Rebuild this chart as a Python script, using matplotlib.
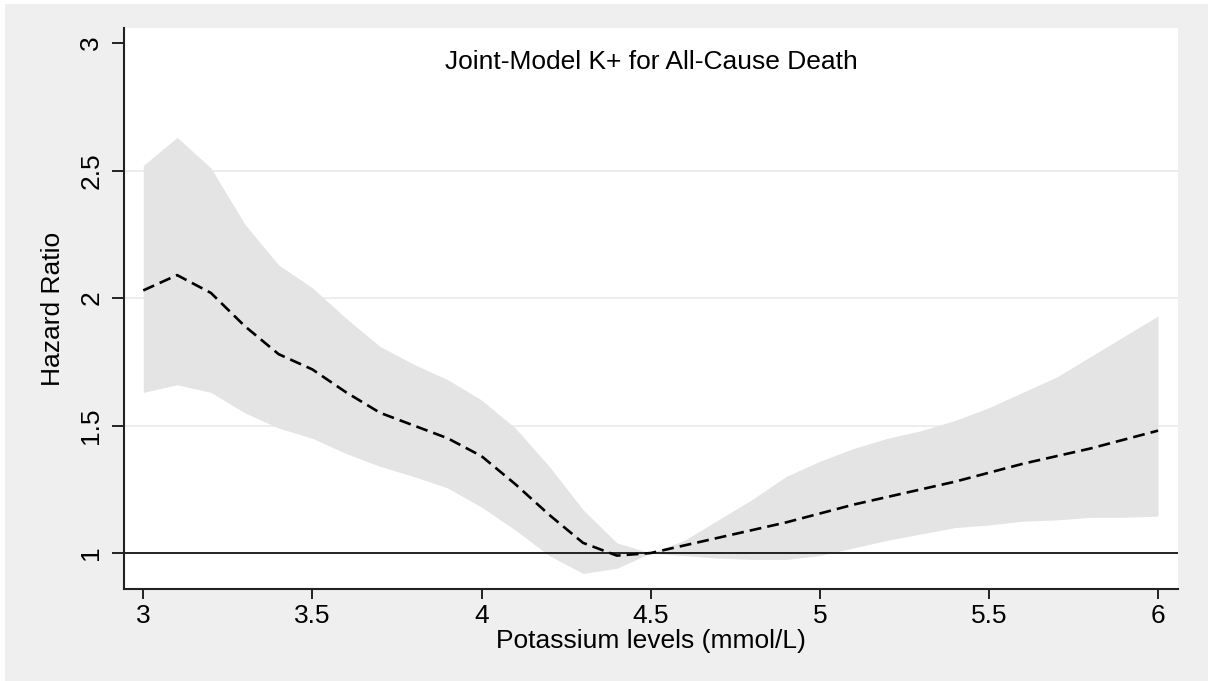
import numpy as np
import matplotlib
matplotlib.use('Agg')
import matplotlib.pyplot as plt
from matplotlib.patches import Rectangle

plt.rcParams['font.family'] = ['Liberation Sans', 'DejaVu Sans']

# potassium grid and joint-model hazard ratio with 95% band
k = [3.0, 3.1, 3.2, 3.3, 3.4, 3.5, 3.6, 3.7, 3.8, 3.9, 4.0, 4.1, 4.2, 4.3, 4.4, 4.5,
     4.6, 4.7, 4.8, 4.9, 5.0, 5.1, 5.2, 5.3, 5.4, 5.5, 5.6, 5.7, 5.8, 5.9, 6.0]
hr = [2.03, 2.09, 2.02, 1.89, 1.78, 1.72, 1.63, 1.55, 1.50, 1.45, 1.38, 1.27, 1.15, 1.04, 0.99, 1.00,
      1.03, 1.06, 1.09, 1.12, 1.155, 1.19, 1.22, 1.25, 1.28, 1.315, 1.35, 1.38, 1.41, 1.445, 1.48]
upper = [2.52, 2.63, 2.51, 2.29, 2.13, 2.04, 1.92, 1.81, 1.74, 1.68, 1.60, 1.49, 1.34, 1.17, 1.04, 1.00,
         1.05, 1.13, 1.21, 1.30, 1.36, 1.41, 1.45, 1.48, 1.52, 1.57, 1.63, 1.69, 1.77, 1.85, 1.93]
lower = [1.63, 1.66, 1.63, 1.55, 1.49, 1.45, 1.39, 1.34, 1.30, 1.255, 1.18, 1.09, 0.99, 0.92, 0.94, 1.00,
         0.99, 0.98, 0.975, 0.975, 0.99, 1.02, 1.05, 1.075, 1.10, 1.11, 1.125, 1.13, 1.14, 1.14, 1.145]

xticks = [3, 3.5, 4, 4.5, 5, 5.5, 6]
xticklabels = ['3', '3.5', '4', '4.5', '5', '5.5', '6']
yticks = [1, 1.5, 2, 2.5, 3]
yticklabels = ['1', '1.5', '2', '2.5', '3']

fig = plt.figure(figsize=(12.08, 6.81), dpi=100, facecolor='white')
bg = Rectangle((5/1208, 0), 1, 1 - 4/681, transform=fig.transFigure,
               facecolor='#efefef', edgecolor='none', zorder=-10)
fig.add_artist(bg)
ax = fig.add_axes([124/1208, 1 - 589/681, (1178 - 124)/1208, (589 - 28)/681])
ax.set_facecolor('white')

ax.fill_between(k, lower, upper, color='#e4e4e4', linewidth=0, zorder=1)
for g in [1.5, 2, 2.5]:
    ax.axhline(g, color='#eaeaea', linewidth=1.2, zorder=0.5)
ax.axhline(1, color='#222222', linewidth=1.4, zorder=2)
ax.plot(k, hr, color='black', linewidth=1.9, dashes=(4.5, 2.3), zorder=3)

ax.set_xlim(2.943, 6.059)
ax.set_ylim(0.859, 3.059)
ax.set_xticks(xticks)
ax.set_xticklabels(xticklabels, fontsize=19)
ax.set_yticks(yticks)
ax.set_yticklabels(yticklabels, fontsize=19, rotation=90, va='center')
ax.tick_params(direction='out', width=1.4, color='#222222')
ax.tick_params(axis='x', length=7, pad=4)
ax.tick_params(axis='y', length=9, pad=6)

for s in ['top', 'right']:
    ax.spines[s].set_visible(False)
for s in ['left', 'bottom']:
    ax.spines[s].set_color('#222222')
    ax.spines[s].set_linewidth(1.5)

ax.set_xlabel('Potassium levels (mmol/L)', fontsize=19, labelpad=0.5)
ax.set_ylabel('Hazard Ratio', fontsize=19, labelpad=10)
ax.text(0.5, 0.939, 'Joint-Model K+ for All-Cause Death', transform=ax.transAxes,
        ha='center', va='center', fontsize=19)

fig.savefig('out.png', dpi=100, facecolor=fig.get_facecolor())
